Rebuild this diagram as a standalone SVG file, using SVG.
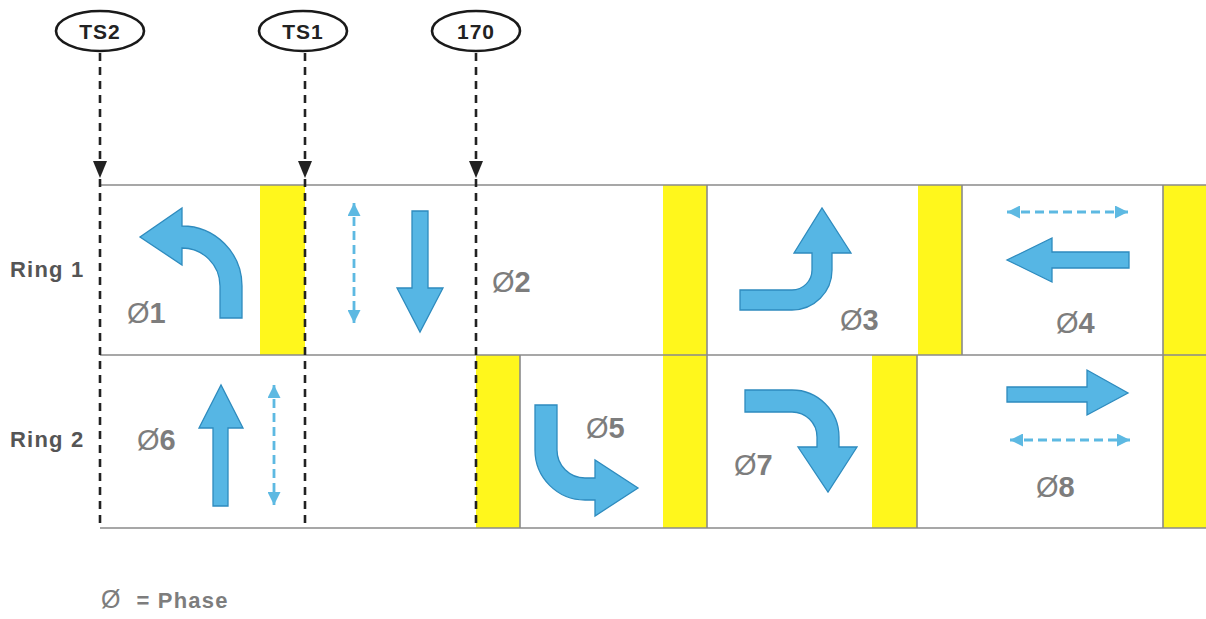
<svg xmlns="http://www.w3.org/2000/svg" width="1206" height="619" viewBox="0 0 1206 619">
<style>
.bg{fill:#ffffff}
.yel{fill:#FFF71C}
.grid{stroke:#8a8a8a;stroke-width:1.6;fill:none}
.cut{stroke:#222;stroke-width:2.6;stroke-dasharray:8 6;fill:none}
.head{fill:#222}
.ell{fill:#fff;stroke:#1a1a1a;stroke-width:2.6}
.etxt{font-family:"Liberation Sans",Arial,sans-serif;font-weight:bold;font-size:21px;fill:#222;text-anchor:middle;letter-spacing:1px}
.arr{fill:#56B6E4;stroke:#2E8BBE;stroke-width:1.3;stroke-linejoin:miter}
.dash{stroke:#5DB9E2;stroke-width:2.8;stroke-dasharray:9 5;fill:none}
.ph{font-family:"Liberation Sans",Arial,sans-serif;font-size:29px;fill:#7d7d7d}
.ph .n{font-weight:bold}
.ring{font-family:"Liberation Sans",Arial,sans-serif;font-weight:bold;font-size:22px;fill:#555;letter-spacing:1.2px}
.leg{font-family:"Liberation Sans",Arial,sans-serif;font-size:22px;fill:#7d7d7d}
</style>
<defs>
<marker id="bh" viewBox="0 0 10 10" refX="10" refY="5" markerWidth="13" markerHeight="13" markerUnits="userSpaceOnUse" orient="auto-start-reverse">
<path d="M0,0 L10,5 L0,10 z" fill="#5DB9E2"/>
</marker>
</defs>
<rect class="bg" x="0" y="0" width="1206" height="619"/>

<g id="timeline">
<rect class="yel" x="260" y="185" width="45" height="170"/>
<rect class="yel" x="663" y="185" width="44" height="170"/>
<rect class="yel" x="918" y="185" width="44" height="170"/>
<rect class="yel" x="1163" y="185" width="43" height="170"/>
<rect class="yel" x="476" y="355" width="44" height="173"/>
<rect class="yel" x="663" y="355" width="44" height="173"/>
<rect class="yel" x="872" y="355" width="45" height="173"/>
<rect class="yel" x="1163" y="355" width="43" height="173"/>
<path class="grid" d="M100 185 H1206 M100 355 H1206 M100 528 H1206"/>
<path class="grid" d="M707 185 V528 M962 185 V355 M917 355 V528 M520 355 V528 M1163 185 V528" stroke-width="1"/>
</g>

<g id="ring-labels">
<text class="ring" x="10" y="277">Ring 1</text>
<text class="ring" x="10" y="447">Ring 2</text>
</g>

<g id="marker-TS2">
<ellipse class="ell" cx="100" cy="31" rx="44" ry="20"/>
<text class="etxt" x="100" y="39">TS2</text>
</g>
<g id="marker-TS1">
<ellipse class="ell" cx="303" cy="31" rx="44" ry="20"/>
<text class="etxt" x="303" y="39">TS1</text>
</g>
<g id="marker-170">
<ellipse class="ell" cx="476" cy="31" rx="44" ry="20"/>
<text class="etxt" x="476" y="39">170</text>
</g>

<g id="connectors">
<line class="cut" x1="100" y1="53" x2="100" y2="528"/>
<line class="cut" x1="305" y1="53" x2="305" y2="528"/>
<line class="cut" x1="476" y1="53" x2="476" y2="528"/>
<polygon class="head" points="93,161 107,161 100,178"/>
<polygon class="head" points="298,161 312,161 305,178"/>
<polygon class="head" points="469,161 483,161 476,178"/>
</g>

<g id="phase1">
<path class="arr" d="M220 318 L220 286 A38 38 0 0 0 182 248 L182 265 L140 237 L182 208 L182 226 A60 60 0 0 1 242 286 L242 318 Z"/>
<text class="ph" x="127" y="323">Ø<tspan class="n">1</tspan></text>
</g>
<g id="phase2">
<line class="dash" x1="354" y1="203" x2="354" y2="323" marker-start="url(#bh)" marker-end="url(#bh)"/>
<path class="arr" d="M412 211 L428 211 L428 288 L443 288 L420 332 L397 288 L412 288 Z"/>
<text class="ph" x="492" y="292">Ø<tspan class="n">2</tspan></text>
</g>
<g id="phase3">
<path class="arr" d="M740 290 L792 290 A20 20 0 0 0 812 270 L812 253 L794 253 L822 208 L851 253 L832 253 L832 270 A40 40 0 0 1 792 310 L740 310 Z"/>
<text class="ph" x="840" y="330">Ø<tspan class="n">3</tspan></text>
</g>
<g id="phase4">
<line class="dash" x1="1007" y1="212" x2="1128" y2="212" marker-start="url(#bh)" marker-end="url(#bh)"/>
<path class="arr" d="M1129 252 L1052 252 L1052 238 L1007 260 L1052 282 L1052 268 L1129 268 Z"/>
<text class="ph" x="1056" y="333">Ø<tspan class="n">4</tspan></text>
</g>
<g id="phase6">
<path class="arr" d="M213 506 L213 428 L199 428 L221 385 L243 428 L228 428 L228 506 Z"/>
<line class="dash" x1="274" y1="385" x2="274" y2="505" marker-start="url(#bh)" marker-end="url(#bh)"/>
<text class="ph" x="137" y="450">Ø<tspan class="n">6</tspan></text>
</g>
<g id="phase5">
<path class="arr" d="M535 405 L557 405 L557 450 A28 28 0 0 0 585 478 L595 478 L595 460 L638 488 L595 516 L595 500 L585 500 A50 50 0 0 1 535 450 Z"/>
<text class="ph" x="586" y="438">Ø<tspan class="n">5</tspan></text>
</g>
<g id="phase7">
<path class="arr" d="M745 390 L792 390 A47 47 0 0 1 839 437 L839 447 L857 447 L828 492 L798 447 L817 447 L817 437 A25 25 0 0 0 792 412 L745 412 Z"/>
<text class="ph" x="734" y="475">Ø<tspan class="n">7</tspan></text>
</g>
<g id="phase8">
<path class="arr" d="M1007 387 L1087 387 L1087 370 L1128 393 L1087 415 L1087 402 L1007 402 Z"/>
<line class="dash" x1="1010" y1="440" x2="1130" y2="440" marker-start="url(#bh)" marker-end="url(#bh)"/>
<text class="ph" x="1036" y="497">Ø<tspan class="n">8</tspan></text>
</g>

<g id="legend">
<text class="leg" x="101" y="608"><tspan font-size="25">Ø</tspan><tspan dx="16" font-weight="bold" letter-spacing="1.2">= Phase</tspan></text>
</g>
</svg>
